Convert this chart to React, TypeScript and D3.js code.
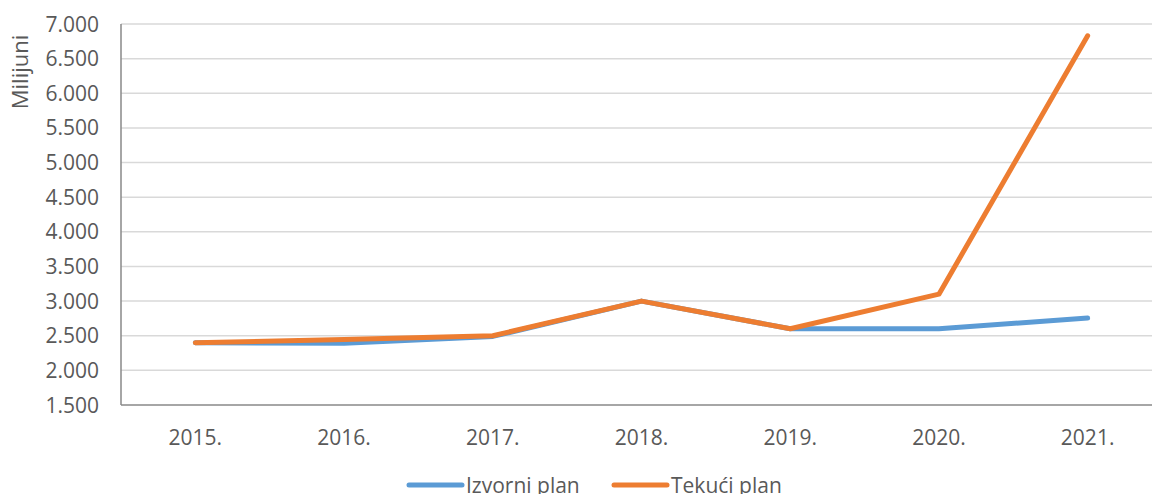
import React, { useRef, useEffect } from 'react';
import * as d3 from 'd3';

const years = ['2015.', '2016.', '2017.', '2018.', '2019.', '2020.', '2021.'];
const izvorniPlan = [2400, 2390, 2490, 3000, 2600, 2600, 2755];
const tekuciPlan = [2400, 2445, 2500, 3000, 2600, 3100, 6830];
const yTicks = [1500, 2000, 2500, 3000, 3500, 4000, 4500, 5000, 5500, 6000, 6500, 7000];

const series = [
  { name: 'Izvorni plan', values: izvorniPlan, color: '#5B9BD5' },
  { name: 'Tekući plan', values: tekuciPlan, color: '#ED7D31' },
];

const App = () => {
  const svgRef = useRef<SVGSVGElement>(null);

  useEffect(() => {
    const svg = d3.select(svgRef.current);
    svg.selectAll('*').remove();

    const width = 1152;
    const height = 494;
    const margin = { top: 24, right: -10, bottom: 89, left: 121 };
    const font = '"Open Sans", sans-serif';
    const fontSize = '21px';
    const textColor = '#595959';

    const x = d3.scaleBand().domain(years).range([margin.left, width - margin.right]);
    const y = d3.scaleLinear().domain([1500, 7000]).range([height - margin.bottom, margin.top]);

    // gridlines
    svg.append('g')
      .selectAll('line')
      .data(yTicks.slice(1))
      .enter()
      .append('line')
      .attr('x1', margin.left)
      .attr('x2', width - margin.right)
      .attr('y1', (d) => y(d))
      .attr('y2', (d) => y(d))
      .attr('stroke', '#D9D9D9')
      .attr('stroke-width', 1.5);

    // axes lines
    svg.append('line')
      .attr('x1', margin.left).attr('x2', margin.left)
      .attr('y1', y(7000)).attr('y2', y(1500))
      .attr('stroke', '#898989').attr('stroke-width', 1.5);
    svg.append('line')
      .attr('x1', margin.left).attr('x2', width - margin.right)
      .attr('y1', y(1500)).attr('y2', y(1500))
      .attr('stroke', '#898989').attr('stroke-width', 1.5);

    const fmt = (v: number) => d3.format(',')(v).replace(/,/g, '.');

    // y tick labels
    svg.append('g')
      .selectAll('text')
      .data(yTicks)
      .enter()
      .append('text')
      .attr('x', margin.left - 22)
      .attr('y', (d) => y(d))
      .attr('dy', '0.36em')
      .attr('text-anchor', 'end')
      .style('font-family', font)
      .style('font-size', fontSize)
      .attr('fill', textColor)
      .text((d) => fmt(d));

    // x tick labels
    svg.append('g')
      .selectAll('text')
      .data(years)
      .enter()
      .append('text')
      .attr('x', (d) => x(d)! + x.bandwidth() / 2)
      .attr('y', y(1500) + 40)
      .attr('text-anchor', 'middle')
      .style('font-family', font)
      .style('font-size', fontSize)
      .attr('fill', textColor)
      .text((d) => d);

    // y-axis label
    svg.append('text')
      .attr('text-anchor', 'middle')
      .attr('transform', 'translate(28,72)rotate(-90)')
      .style('font-family', font)
      .style('font-size', '22px')
      .attr('fill', textColor)
      .text('Milijuni');

    // lines
    const line = d3.line<number>()
      .x((d, i) => x(years[i])! + x.bandwidth() / 2)
      .y((d) => y(d));

    series.forEach((s) => {
      svg.append('path')
        .datum(s.values)
        .attr('d', line)
        .attr('fill', 'none')
        .attr('stroke', s.color)
        .attr('stroke-width', 5)
        .attr('stroke-linecap', 'round')
        .attr('stroke-linejoin', 'round');
    });

    // legend
    const legendX = [409, 614];
    series.forEach((s, i) => {
      const g = svg.append('g').attr('transform', `translate(${legendX[i]},485)`);
      g.append('line')
        .attr('x1', 0).attr('x2', 53)
        .attr('y1', 0).attr('y2', 0)
        .attr('stroke', s.color)
        .attr('stroke-width', 5)
        .attr('stroke-linecap', 'round');
      g.append('text')
        .attr('x', 57)
        .attr('y', 0)
        .attr('dy', '0.36em')
        .style('font-family', font)
        .style('font-size', fontSize)
        .attr('fill', textColor)
        .text(s.name);
    });
  }, []);

  return (
    <svg ref={svgRef} width={1152} height={494} style={{ position: 'absolute', left: 0, top: 0, overflow: 'hidden' }} />
  );
};

export default App;
